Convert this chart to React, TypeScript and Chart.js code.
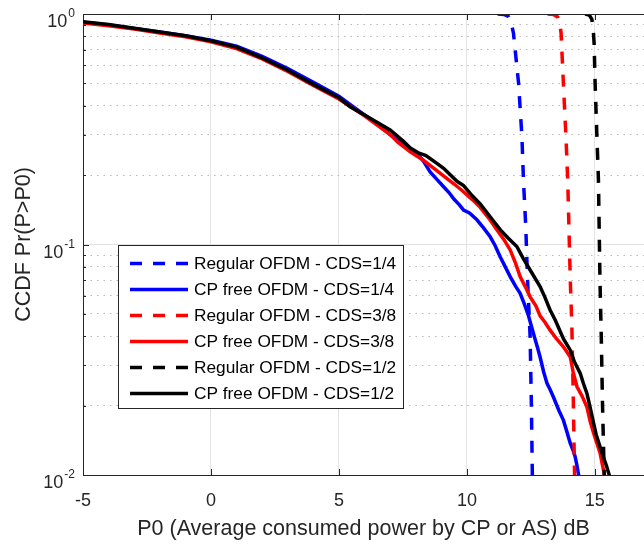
import { useEffect, useRef } from 'react';
import { Chart, registerables } from 'chart.js';

Chart.register(...registerables);

const FONT = '"Liberation Sans", Arial, Helvetica, sans-serif';
const AXIS_COLOR = '#262626';

// ---- tick data ----
const xTickValues = [-5, 0, 5, 10, 15];
const xMin = -5;
const xMax = 16.92;
const yDecadeValues = [1, 0.1, 0.01];
const yDecadeExponents = ['0', '-1', '-2'];
const yGridValues = [
  0.01, 0.02, 0.03, 0.04, 0.05, 0.06, 0.07, 0.08, 0.09,
  0.1, 0.2, 0.3, 0.4, 0.5, 0.6, 0.7, 0.8, 0.9, 1,
];

// ---- series ----
const seriesLabels = [
  'Regular OFDM - CDS=1/4',
  'CP free OFDM - CDS=1/4',
  'Regular OFDM - CDS=3/8',
  'CP free OFDM - CDS=3/8',
  'Regular OFDM - CDS=1/2',
  'CP free OFDM - CDS=1/2',
];
const seriesColors = ['#0000ff', '#0000ff', '#ff0000', '#ff0000', '#000000', '#000000'];
const seriesDashed = [true, false, true, false, true, false];

const reg14X = [11.2, 11.45, 11.62, 11.72, 11.82, 12.02, 12.15, 12.21, 12.3, 12.37, 12.47, 12.52, 12.56];
const reg14Y = [1.0, 0.995, 0.975, 0.93, 0.825, 0.5, 0.294, 0.19, 0.12, 0.07, 0.04, 0.02, 0.0095];

const cp14X = [-5, -4, -3, -2, -1, 0, 1, 2, 3, 4, 5, 5.5, 6, 6.6, 7.0, 7.3, 7.8, 8.1, 8.3, 8.57, 8.8, 9.09, 9.3, 9.5, 9.7, 9.87, 10.1, 10.39, 10.65, 10.91, 11.1, 11.3, 11.5, 11.69, 11.9, 12.08, 12.25, 12.41, 12.6, 12.75, 12.86, 13.0, 13.13, 13.25, 13.38, 13.6, 13.77, 13.9, 14.04, 14.15, 14.23, 14.3, 14.4];
const cp14Y = [0.922, 0.897, 0.866, 0.835, 0.805, 0.77, 0.725, 0.655, 0.58, 0.505, 0.44, 0.4, 0.365, 0.328, 0.3, 0.283, 0.257, 0.245, 0.23, 0.206, 0.193, 0.178, 0.168, 0.157, 0.149, 0.141, 0.137, 0.128, 0.118, 0.108, 0.099, 0.0885, 0.08, 0.0726, 0.066, 0.0614, 0.055, 0.049, 0.0411, 0.036, 0.0325, 0.028, 0.025, 0.0235, 0.0218, 0.019, 0.0173, 0.0155, 0.0137, 0.0128, 0.012, 0.011, 0.0095];

const reg38X = [13.15, 13.38, 13.55, 13.63, 13.68, 13.77, 13.87, 13.94, 14.04, 14.1, 14.16, 14.21];
const reg38Y = [1.0, 0.995, 0.97, 0.92, 0.825, 0.5, 0.294, 0.19, 0.07, 0.045, 0.0206, 0.0095];

const cp38X = [-5, -4, -3, -2, -1, 0, 1, 2, 3, 4, 5, 6, 7, 7.3, 7.8, 8.3, 8.8, 9.1, 9.5, 9.8, 10.2, 10.52, 10.9, 11.17, 11.45, 11.69, 11.9, 12.08, 12.3, 12.47, 12.7, 12.86, 13.05, 13.25, 13.5, 13.77, 14.04, 14.15, 14.3, 14.5, 14.69, 14.82, 14.95, 15.1, 15.2, 15.3, 15.42];
const cp38Y = [0.915, 0.89, 0.86, 0.828, 0.796, 0.758, 0.708, 0.638, 0.563, 0.49, 0.428, 0.362, 0.3, 0.278, 0.252, 0.232, 0.21, 0.198, 0.183, 0.172, 0.157, 0.145, 0.128, 0.116, 0.105, 0.0947, 0.083, 0.0726, 0.065, 0.0593, 0.054, 0.049, 0.046, 0.0425, 0.039, 0.036, 0.0325, 0.028, 0.0242, 0.022, 0.0197, 0.017, 0.0152, 0.0135, 0.0125, 0.011, 0.0095];

const reg12X = [14.62, 14.78, 14.88, 14.93, 14.97, 15.01, 15.08, 15.14, 15.2, 15.25, 15.3, 15.37];
const reg12Y = [1.0, 0.99, 0.95, 0.88, 0.75, 0.5, 0.294, 0.19, 0.07, 0.04, 0.02, 0.0095];

const cp12X = [-5, -4, -3, -2, -1, 0, 1, 2, 3, 4, 5, 5.44, 6.22, 7.0, 7.5, 7.79, 8.1, 8.4, 8.8, 9.09, 9.4, 9.61, 9.87, 10.2, 10.52, 11.0, 11.3, 11.6, 11.95, 12.2, 12.47, 12.86, 13.05, 13.25, 13.45, 13.77, 14.04, 14.2, 14.43, 14.55, 14.69, 14.8, 14.95, 15.05, 15.2, 15.35, 15.45, 15.62];
const cp12Y = [0.925, 0.9, 0.868, 0.836, 0.804, 0.766, 0.718, 0.645, 0.57, 0.495, 0.433, 0.396, 0.353, 0.314, 0.282, 0.262, 0.25, 0.243, 0.226, 0.214, 0.198, 0.188, 0.18, 0.163, 0.15, 0.128, 0.116, 0.107, 0.098, 0.087, 0.0775, 0.0657, 0.059, 0.052, 0.047, 0.039, 0.0348, 0.031, 0.0276, 0.025, 0.0226, 0.02, 0.0168, 0.015, 0.0133, 0.0118, 0.011, 0.0095];

const seriesX = [reg14X, cp14X, reg38X, cp38X, reg12X, cp12X];
const seriesY = [reg14Y, cp14Y, reg38Y, cp38Y, reg12Y, cp12Y];

const DASH = [12, 11];
const LINE_W = 3.5;

const isDecade = (v: number) => Math.abs(Math.log10(v) - Math.round(Math.log10(v))) < 1e-9;

const decorPlugin = {
  id: 'matlabDecor',
  afterDraw(chart: any) {
    const { ctx, chartArea: ca, scales } = chart;
    const xs = scales.x;
    const ys = scales.y;
    ctx.save();
    ctx.strokeStyle = AXIS_COLOR;
    ctx.lineWidth = 1;
    ctx.setLineDash([]);
    // top border
    ctx.beginPath();
    ctx.moveTo(ca.left, ca.top + 0.5);
    ctx.lineTo(ca.right, ca.top + 0.5);
    ctx.stroke();
    // inward x ticks (bottom & top)
    ctx.beginPath();
    for (const v of xTickValues) {
      const px = Math.round(xs.getPixelForValue(v)) + 0.5;
      ctx.moveTo(px, ca.bottom);
      ctx.lineTo(px, ca.bottom - 6);
      ctx.moveTo(px, ca.top);
      ctx.lineTo(px, ca.top + 6);
    }
    // inward y ticks
    for (const v of yGridValues) {
      const py = Math.round(ys.getPixelForValue(v)) + 0.5;
      const len = isDecade(v) ? 6 : 3;
      ctx.moveTo(ca.left, py);
      ctx.lineTo(ca.left + len, py);
    }
    ctx.stroke();

    // y tick labels with superscript exponents
    ctx.fillStyle = AXIS_COLOR;
    ctx.textBaseline = 'alphabetic';
    ctx.textAlign = 'left';
    const rightEdge = ca.left - 8;
    yDecadeValues.forEach((v, i) => {
      const py = ys.getPixelForValue(v);
      const exp = yDecadeExponents[i];
      ctx.font = `12px ${FONT}`;
      const ew = ctx.measureText(exp).width;
      ctx.font = `18px ${FONT}`;
      const bw = ctx.measureText('10').width;
      const x0 = rightEdge - ew - bw - 1;
      ctx.fillText('10', x0, py + 13);
      ctx.font = `12px ${FONT}`;
      ctx.fillText(exp, x0 + bw + 1, py + 3);
    });

    // legend box
    const lx = 118.5, ly = 245.5, lw = 285, lh = 163;
    ctx.fillStyle = '#ffffff';
    ctx.fillRect(lx, ly, lw, lh);
    ctx.strokeStyle = AXIS_COLOR;
    ctx.lineWidth = 1;
    ctx.strokeRect(lx, ly, lw, lh);
    ctx.font = `17.3px ${FONT}`;
    ctx.textBaseline = 'middle';
    chart.data.datasets.forEach((ds: any, i: number) => {
      const ry = ly + 18 + i * 26;
      ctx.beginPath();
      ctx.strokeStyle = ds.borderColor;
      ctx.lineWidth = LINE_W;
      ctx.setLineDash(ds.borderDash || []);
      ctx.moveTo(130, ry);
      ctx.lineTo(188, ry);
      ctx.stroke();
      ctx.setLineDash([]);
      ctx.fillStyle = '#000000';
      ctx.fillText(ds.label, 194, ry + 1);
    });
    ctx.restore();
  },
};

export default function App() {
  const canvasRef = useRef<HTMLCanvasElement | null>(null);

  useEffect(() => {
    document.body.style.margin = '0';
    const canvas = canvasRef.current;
    if (!canvas) return;

    const datasets = seriesLabels.map((label, i) => ({
      label,
      data: seriesX[i].map((x, j) => ({ x, y: seriesY[i][j] })),
      borderColor: seriesColors[i],
      backgroundColor: seriesColors[i],
      borderWidth: LINE_W,
      borderDash: seriesDashed[i] ? DASH : [],
      pointRadius: 0,
      tension: 0,
      fill: false,
      order: seriesLabels.length - i,
    }));

    const chart = new Chart(canvas, {
      type: 'line',
      data: { datasets },
      options: {
        responsive: false,
        animation: false,
        devicePixelRatio: 1,
        layout: { padding: { top: 14, right: 0, bottom: 0, left: 0 } },
        plugins: {
          legend: { display: false },
          tooltip: { enabled: false },
        },
        scales: {
          x: {
            type: 'linear',
            min: xMin,
            max: xMax,
            afterBuildTicks: (scale: any) => {
              scale.ticks = xTickValues.map((v) => ({ value: v }));
            },
            afterFit: (scale: any) => {
              scale.height = 70;
            },
            ticks: {
              color: AXIS_COLOR,
              font: { family: FONT, size: 18 },
              padding: 15,
              maxRotation: 0,
              callback: (v: any) => String(v),
            },
            grid: {
              color: '#e3e3e3',
              lineWidth: 1,
              drawTicks: false,
            },
            border: { display: true, color: AXIS_COLOR, width: 1 },
            title: {
              display: true,
              text: 'P0 (Average consumed power by CP or AS) dB',
              color: AXIS_COLOR,
              font: { family: FONT, size: 21.5 },
              padding: { top: 0, bottom: 3 },
            },
          },
          y: {
            type: 'logarithmic',
            min: 0.01,
            max: 1,
            afterBuildTicks: (scale: any) => {
              scale.ticks = yGridValues.map((v) => ({ value: v, major: isDecade(v) }));
            },
            afterFit: (scale: any) => {
              scale.width = 83;
            },
            ticks: { display: false },
            grid: {
              color: (c: any) => (c.tick && !isDecade(c.tick.value) ? '#b8b8b8' : '#e3e3e3'),
              lineWidth: 1,
              drawTicks: false,
            },
            border: {
              display: true,
              color: AXIS_COLOR,
              width: 1,
              dash: (c: any) => (c.tick && !isDecade(c.tick.value) ? [1.5, 5] : []),
            },
            title: {
              display: true,
              text: 'CCDF Pr(P>P0)',
              color: AXIS_COLOR,
              font: { family: FONT, size: 21.5 },
              padding: { top: 11, bottom: 0 },
            },
          },
        },
      },
      plugins: [decorPlugin],
    } as any);

    return () => chart.destroy();
  }, []);

  return (
    <div style={{ width: 644, height: 545 }}>
      <canvas ref={canvasRef} width={644} height={545} style={{ display: 'block' }} />
    </div>
  );
}
